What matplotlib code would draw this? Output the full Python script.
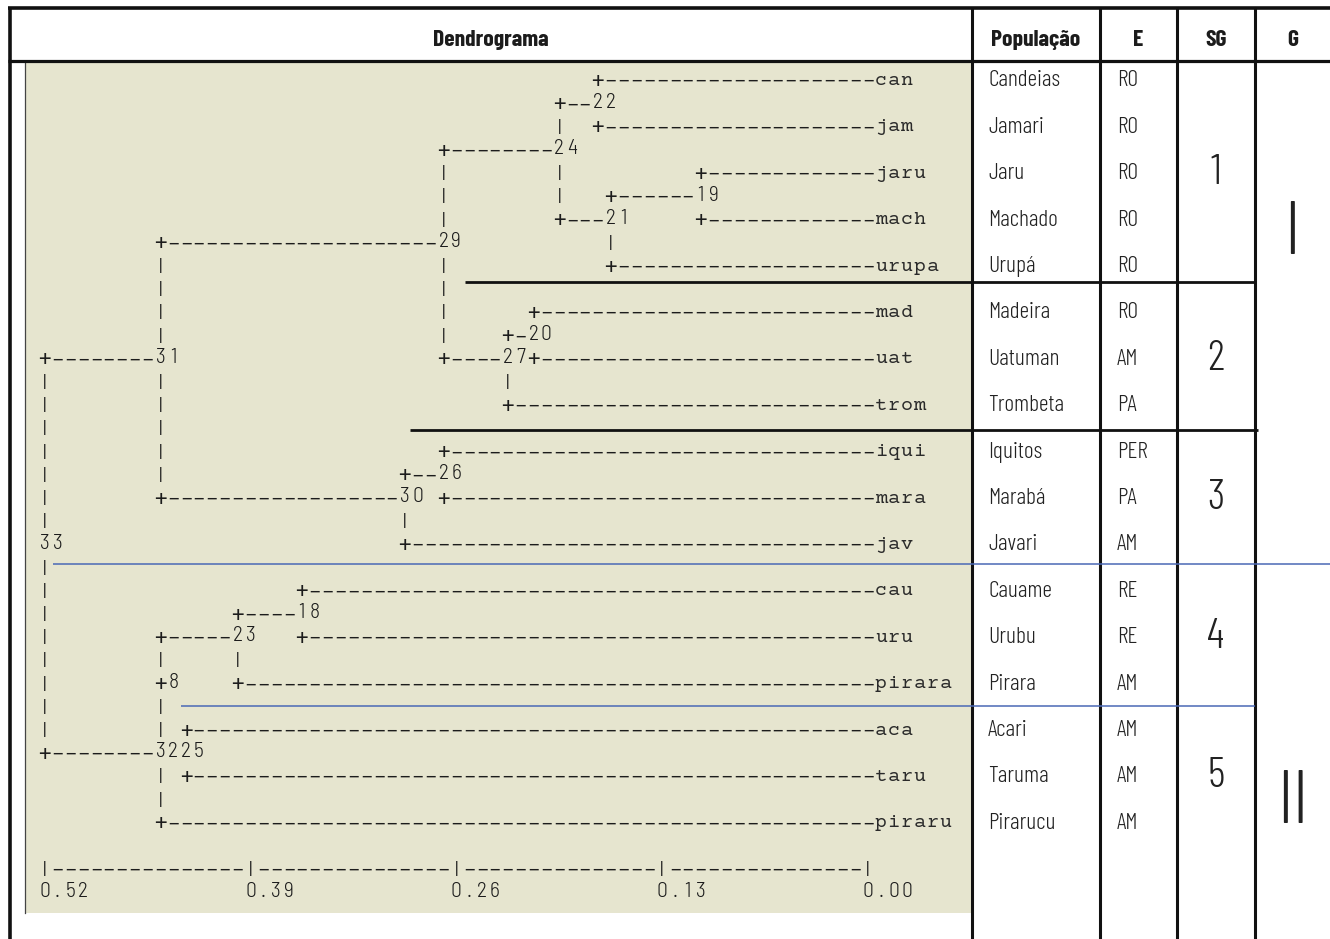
import matplotlib
matplotlib.use('Agg')
import matplotlib.pyplot as plt

# ---- dendrogram data ----
leaves = ['can', 'jam', 'jaru', 'mach', 'urupa', 'mad', 'uat', 'trom', 'iqui',
          'mara', 'jav', 'cau', 'uru', 'pirara', 'aca', 'taru', 'piraru']
node_ids = ['22', '19', '21', '24', '20', '27', '29', '26', '30', '31',
            '18', '23', '25', '8', '32', '33']
node_children = [('can', 'jam'), ('jaru', 'mach'), ('19', 'urupa'), ('22', '21'),
                 ('mad', 'uat'), ('20', 'trom'), ('24', '27'), ('iqui', 'mara'),
                 ('26', 'jav'), ('29', '30'), ('cau', 'uru'), ('18', 'pirara'),
                 ('aca', 'taru'), ('23', '25'), ('8', 'piraru'), ('31', '32')]
node_dist = [0.171, 0.106, 0.163, 0.195, 0.211, 0.228, 0.268, 0.268, 0.293, 0.447,
             0.358, 0.398, 0.431, 0.447, 0.447, 0.520]
scale_ticks = [0.52, 0.39, 0.26, 0.13, 0.00]
scale_labels = ['0.52', '0.39', '0.26', '0.13', '0.00']

# ---- table data ----
headers = ['Dendrograma', 'População', 'E', 'SG', 'G']
populacao = ['Candeias', 'Jamari', 'Jaru', 'Machado', 'Urupá', 'Madeira', 'Uatuman',
             'Trombeta', 'Iquitos', 'Marabá', 'Javari', 'Cauame', 'Urubu', 'Pirara',
             'Acari', 'Taruma', 'Pirarucu']
estado = ['RO', 'RO', 'RO', 'RO', 'RO', 'RO', 'AM', 'PA', 'PER', 'PA', 'AM',
          'RE', 'RE', 'AM', 'AM', 'AM', 'AM']
subgrupo = [1, 1, 1, 1, 1, 2, 2, 2, 3, 3, 3, 4, 4, 4, 5, 5, 5]
grupo = ['I', 'II']

# ---- layout ----
W, H = 1330, 939
ROW0, ROWH = 81.0, 23.2           # pixel y of first line, pixels per text line
PX0, PX1, PY0, PY1 = 25, 972, 63, 913
X_MAX_D, X_ZERO_D = 44.6, 868.0   # pixel x of distance 0.52 and 0.00
COLS = [10, 972, 1100, 1177, 1255]
G_ROWS = [6.65, 31.15]
SEP_ROWS = [8.65, 15.05, 20.8, 26.95]
SEP_START_D = [0.2545, 0.289, 0.515, 0.434]
SEP_END_PX = [1255, 1258, 1330, 1255]
SEP_COLORS = ['#111111', '#111111', '#4a68b5', '#4a68b5']
SEP_LW = [2.0, 2.0, 1.1, 1.1]

COND = ['Barlow Condensed', 'Liberation Sans Narrow', 'DejaVu Sans']
SEMI = ['Barlow Semi Condensed', 'Barlow Condensed', 'DejaVu Sans']
MONO = ['DejaVu Sans Mono', 'Liberation Mono']
BAR_MONO = ['Liberation Mono', 'DejaVu Sans Mono']
SERIF_MONO = ['Courier Prime', 'Liberation Mono', 'DejaVu Sans Mono']
INK = '#1c1c1c'


def px_to_row(y):
    return (y - ROW0) / ROWH


fig = plt.figure(figsize=(W / 100, H / 100), dpi=100, facecolor='white')

# dendrogram panel (x = distance, y = text line)
axd = fig.add_axes([PX0 / W, 1 - PY1 / H, (PX1 - PX0) / W, (PY1 - PY0) / H])
ppu = (X_ZERO_D - X_MAX_D) / 0.52
axd.set_xlim(0.52 + (X_MAX_D - PX0) / ppu, -(PX1 - X_ZERO_D) / ppu)
axd.set_ylim(px_to_row(PY1), px_to_row(PY0))
axd.set_facecolor('#e6e5cf')
axd.set_xticks([])
axd.set_yticks([])
for side, sp in axd.spines.items():
    sp.set_visible(side == 'left')
axd.spines['left'].set_color('#444444')
axd.spines['left'].set_linewidth(0.9)

# overlay for the table (x = pixels, y = text line)
ax = fig.add_axes([0, 0, 1, 1])
ax.set_xlim(0, W)
ax.set_ylim(px_to_row(H), px_to_row(0))
ax.set_facecolor('none')
ax.axis('off')

# ---- build ascii dendrogram ----
STEP = 0.52 / 64


def col_of(d):
    return int(round((0.52 - d) / STEP))


children = dict(zip(node_ids, node_children))
dist = dict(zip(node_ids, node_dist))
parent = {c: n for n, ch in children.items() for c in ch}
row = {leaf: 2 * i for i, leaf in enumerate(leaves)}


def get_row(n):
    if n not in row:
        a, b = children[n]
        row[n] = (get_row(a) + get_row(b)) // 2
    return row[n]


for n in node_ids:
    get_row(n)
col = {n: col_of(dist[n]) for n in node_ids}
leaf_col = col_of(0.0)

grid = {}


def put(r, c, s):
    for i, ch in enumerate(s):
        grid[(r, c + i)] = ch


labels = []
for n in leaves + node_ids:
    if n not in parent:
        labels.append((row[n], col[n], n))
        continue
    p = col[parent[n]]
    end = leaf_col + 1 if n in leaves else max(col[n], p + 1)
    put(row[n], p, '+' + '-' * (end - p - 1))
    labels.append((row[n], end, n))
for r, c, s in labels:
    put(r, c, s)
for n in node_ids:
    a, b = children[n]
    for r in range(row[a] + 1, row[b]):
        if (r, col[n]) not in grid:
            grid[(r, col[n])] = '|'

# scale bar
axis_row = 2 * len(leaves)
tick_cols = [col_of(v) for v in scale_ticks]
put(axis_row, 0, '-' * (max(tick_cols) + 1))
for c, lab in zip(tick_cols, scale_labels):
    grid[(axis_row, c)] = '|'
    put(axis_row + 1, c, lab)

for (r, c), ch in grid.items():
    x = 0.52 - c * STEP
    if ch.isdigit() or ch == '.':
        axd.text(x, r - 0.08, ch, ha='center', va='center', family=SEMI,
                 fontweight=300, fontsize=15.5, color=INK)
    elif ch.isalpha():
        axd.text(x, r, ch, ha='center', va='center', family=SERIF_MONO,
                 fontsize=14.5, color='#2a2a2a')
    elif ch == '-':
        # long dash glyph so the ascii branches read like the original bitmap font
        axd.text(x, r, '\u2212', ha='center', va='center', family=MONO,
                 fontsize=12.5, color=INK)
    elif ch == '|':
        axd.text(x, r - 0.05, ch, ha='center', va='center', family=BAR_MONO,
                 fontsize=11.5, color=INK)
    else:
        axd.text(x, r, ch, ha='center', va='center', family=MONO,
                 fontsize=15, color=INK)

# ---- table frame ----
ax.plot([8, W], [px_to_row(8.5)] * 2, color='#111111', lw=2.6, solid_capstyle='butt')
ax.plot([8, W], [px_to_row(61.5)] * 2, color='#111111', lw=2.3, solid_capstyle='butt')
for x in COLS:
    ax.plot([x, x], [px_to_row(7), px_to_row(H)], color='#111111',
            lw=2.6 if x == COLS[0] else 2.2, solid_capstyle='butt')

# separators
for r, d0, x1, c, lw in zip(SEP_ROWS, SEP_START_D, SEP_END_PX, SEP_COLORS, SEP_LW):
    x0 = axd.transData.transform((d0, 0))[0]
    ax.plot([x0, x1], [r, r], color=c, lw=lw, solid_capstyle='butt')

# headers
hx = [(COLS[i] + COLS[i + 1]) / 2 for i in range(len(COLS) - 1)] + [(COLS[-1] + W) / 2]
for x, h in zip(hx, headers):
    ax.text(x, px_to_row(40), h, ha='center', va='center', family=COND,
            fontweight='bold', fontsize=17, color=INK)

# rows
for i, (p, e) in enumerate(zip(populacao, estado)):
    ax.text(988, row[leaves[i]], p, ha='left', va='center', family=COND,
            fontweight=300, fontsize=17, color='#222222')
    ax.text(1117, row[leaves[i]], e, ha='left', va='center', family=COND,
            fontweight=300, fontsize=17, color='#222222')

for sg in sorted(set(subgrupo)):
    rows = [row[leaves[i]] for i, s in enumerate(subgrupo) if s == sg]
    ax.text(hx[3], (min(rows) + max(rows)) / 2, str(sg), ha='center', va='center',
            family=COND, fontweight=300, fontsize=31, color='#222222')

for g, r in zip(grupo, G_ROWS):
    ax.text(hx[4], r, g, ha='center', va='center', family=COND,
            fontweight=300, fontsize=54, color='#222222')

fig.savefig('out.png', dpi=100, facecolor='white')
